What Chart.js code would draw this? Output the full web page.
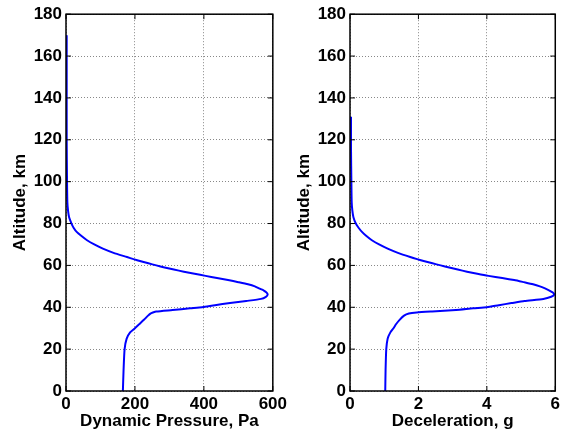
<!DOCTYPE html>
<html>
<head>
<meta charset="utf-8">
<script src="https://cdn.jsdelivr.net/npm/chart.js@4.4.1/dist/chart.umd.min.js"></script>
<style>
    html, body { margin: 0; padding: 0; background: #fff; }
    #wrap { position: relative; width: 563px; height: 437px; overflow: hidden; }
    canvas { position: absolute; top: 0; }
</style>
</head>
<body>
<div id="wrap">
    <canvas id="pressure_chart" width="290" height="437" style="left:0px"></canvas>
    <canvas id="decel_chart" width="279" height="437" style="left:284px"></canvas>
</div>
<script>
// altitude (km) vs dynamic pressure (Pa)
var pressureAlt = [0, 10, 20, 25, 28, 30, 32, 34, 36, 37, 37.5, 38, 38.7, 39.5, 40, 41, 42, 43, 44, 45,
    46, 47, 48, 49, 50, 51, 52, 53, 54, 55, 56, 57, 58, 59, 60, 61, 62, 63, 64, 66,
    68, 70, 72, 74, 76, 78, 80, 83, 86, 90, 100, 120, 150, 170];
var pressureVals = [165, 167, 170, 176, 186, 200, 213, 226, 238, 245, 252, 262, 309, 360, 395, 432, 476, 523, 566, 580,
    585, 582, 574, 560, 548, 528, 500, 470, 438, 405, 373, 342, 313, 286, 262, 239, 217, 196, 177, 138,
    107, 82, 61, 45, 31, 22, 16, 9, 6, 4, 3, 2, 2, 2];

// altitude (km) vs deceleration (g)
var decelAlt = [0, 10, 20, 25, 28, 30, 32, 34, 36, 37, 37.5, 38, 38.7, 39.5, 40, 41, 42, 43, 44, 45,
    46, 47, 48, 49, 50, 51, 52, 53, 54, 55, 56, 57, 58, 59, 60, 61, 62, 63, 64, 66,
    68, 70, 72, 74, 76, 78, 80, 83, 86, 90, 100, 115, 131];
var decelVals = [1.03, 1.04, 1.06, 1.1, 1.18, 1.27, 1.35, 1.45, 1.58, 1.72, 1.95, 2.4, 3.1, 3.6, 4.0, 4.35, 4.72, 5.1, 5.65, 5.88,
    5.97, 5.93, 5.83, 5.7, 5.55, 5.35, 5.08, 4.8, 4.45, 4.05, 3.72, 3.42, 3.15, 2.9, 2.65, 2.41, 2.18, 1.96, 1.76, 1.4,
    1.1, 0.85, 0.64, 0.48, 0.35, 0.25, 0.17, 0.1, 0.07, 0.05, 0.04, 0.03, 0.03];

var altTicks = [0, 20, 40, 60, 80, 100, 120, 140, 160, 180];
var pressureTicks = [0, 200, 400, 600];
var decelTicks = [0, 2, 4, 6];

var FONT = { family: "'Liberation Sans', Arial, sans-serif", size: 17, weight: 'bold' };

// black box round the plot plus small inward ticks, like matlab axes
var boxPlugin = {
    id: 'box',
    afterDraw: function (chart) {
        var ctx = chart.ctx, a = chart.chartArea;
        var xs = chart.scales.x, ys = chart.scales.y;
        ctx.save();
        ctx.strokeStyle = '#000';
        ctx.lineWidth = 1;
        ctx.beginPath();
        xs.ticks.forEach(function (t) {
            var px = xs.getPixelForValue(t.value);
            ctx.moveTo(px, a.bottom); ctx.lineTo(px, a.bottom - 5);
            ctx.moveTo(px, a.top); ctx.lineTo(px, a.top + 5);
        });
        ys.ticks.forEach(function (t) {
            var py = ys.getPixelForValue(t.value);
            ctx.moveTo(a.left, py); ctx.lineTo(a.left + 5, py);
            ctx.moveTo(a.right, py); ctx.lineTo(a.right - 5, py);
        });
        ctx.stroke();
        ctx.lineWidth = 1.5;
        ctx.strokeRect(a.left, a.top, a.right - a.left, a.bottom - a.top);
        ctx.restore();
    }
};

function toPoints(xv, yv) {
    var pts = [];
    for (var i = 0; i < xv.length; i++) {
        pts.push({ x: xv[i], y: yv[i] });
    }
    return pts;
}

function getConfig(xVals, yVals, xTicks, xMax, xTitle, padRight) {
    return {
        type: 'scatter',
        data: {
            datasets: [{
                data: toPoints(xVals, yVals),
                showLine: true,
                borderColor: '#0000ff',
                borderWidth: 2,
                pointRadius: 0,
                tension: 0.2
            }]
        },
        options: {
            responsive: false,
            animation: false,
            layout: { padding: { left: 0, right: padRight, top: 8, bottom: 0 } },
            plugins: { legend: { display: false }, tooltip: { enabled: false } },
            scales: {
                x: {
                    type: 'linear',
                    min: 0,
                    max: xMax,
                    afterBuildTicks: function (scale) {
                        scale.ticks = xTicks.map(function (v) { return { value: v }; });
                    },
                    afterFit: function (scale) { scale.height = 46; },
                    grid: { color: '#888', lineWidth: 1, drawTicks: false },
                    border: { display: false, dash: [1, 2] },
                    ticks: { color: '#000', font: FONT, padding: 3, maxRotation: 0 },
                    title: { display: true, text: xTitle, color: '#000', font: FONT, padding: { top: 0, bottom: 5 } }
                },
                y: {
                    type: 'linear',
                    min: 0,
                    max: 180,
                    afterBuildTicks: function (scale) {
                        scale.ticks = altTicks.map(function (v) { return { value: v }; });
                    },
                    afterFit: function (scale) { scale.width = 66; },
                    grid: { color: '#888', lineWidth: 1, drawTicks: false },
                    border: { display: false, dash: [1, 2] },
                    ticks: { color: '#000', font: FONT, padding: 4 },
                    title: { display: true, text: 'Altitude, km', color: '#000', font: FONT, padding: { top: 10, bottom: 0 } }
                }
            }
        },
        plugins: [boxPlugin]
    };
}

new Chart(document.getElementById("pressure_chart").getContext("2d"),
    getConfig(pressureVals, pressureAlt, pressureTicks, 600, 'Dynamic Pressure, Pa', 14));
new Chart(document.getElementById("decel_chart").getContext("2d"),
    getConfig(decelVals, decelAlt, decelTicks, 6, 'Deceleration, g', 4));
</script>
</body>
</html>
